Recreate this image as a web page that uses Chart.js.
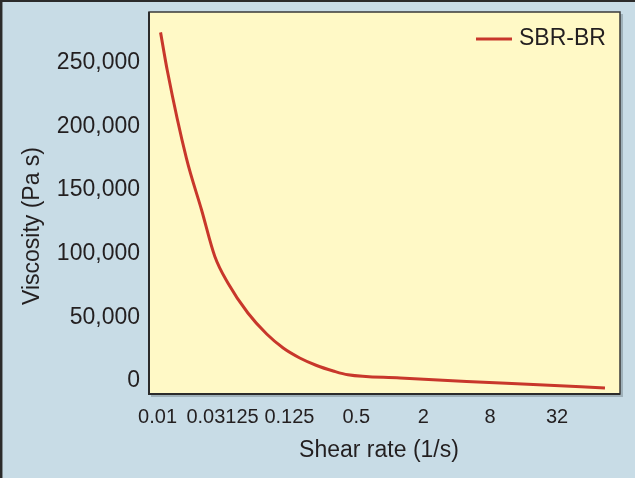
<!DOCTYPE html>
<html lang="en">
<head>
<meta charset="UTF-8">
<title>SBR-BR viscosity</title>
<script src="https://cdn.jsdelivr.net/npm/chart.js@4.4.1/dist/chart.umd.min.js"></script>
<style>
    body { margin: 0; background: #c8dce6; }
    canvas { display: block; }
</style>
</head>
<body>
<canvas id="my-chart" width="635" height="478"></canvas>
<script>

    // values
    const seriesName = 'SBR-BR';
    const xTitle = 'Shear rate (1/s)';
    const yTitle = 'Viscosity (Pa s)';
    const shearRate = [0.01, 0.0115, 0.0171, 0.0234, 0.0308, 0.0405, 0.0611, 0.0902, 0.127, 0.179, 0.254, 0.358, 0.486, 1.43, 5.68, 22.6, 100];
    const viscosity = [284000, 254000, 185000, 144500, 108000, 87000, 63600, 47100, 36100, 28300, 22400, 18100, 15100, 12600, 9800, 7400, 4700];
    const xTicks = [0.01, 0.03125, 0.125, 0.5, 2, 8, 32];
    const yMin = 0, yMax = 300000, yStep = 50000;

    const fontFamily = "'Liberation Sans', Arial, sans-serif";
    const textColor = '#231f20';
    const lineColor = '#c8372b';

    Chart.defaults.font.family = fontFamily;
    Chart.defaults.color = textColor;

    const framePlugin = {
        id: 'frame',
        beforeDraw(chart) {
            const {ctx, chartArea: a, width, height} = chart;
            ctx.save();
            ctx.fillStyle = '#c8dce6';
            ctx.fillRect(0, 0, width, height);
            ctx.strokeStyle = '#2b2b2b';
            ctx.lineWidth = 2.5;
            ctx.beginPath();
            ctx.moveTo(1.2, height);
            ctx.lineTo(1.2, 0.8);
            ctx.lineTo(width, 0.8);
            ctx.stroke();
            // plot box with a small shadow
            ctx.fillStyle = '#9fb1ba';
            ctx.fillRect(a.left + 2, a.top + 2, a.width + 1, a.height + 1);
            ctx.fillStyle = '#fff9c6';
            ctx.fillRect(a.left, a.top, a.width, a.height);
            ctx.strokeStyle = '#3a3a3a';
            ctx.lineWidth = 1.5;
            ctx.strokeRect(a.left, a.top, a.width, a.height);
            ctx.strokeStyle = '#2b2b2b';
            ctx.lineWidth = 2;
            ctx.beginPath();
            ctx.moveTo(a.left, a.top);
            ctx.lineTo(a.left, a.bottom);
            ctx.lineTo(a.right, a.bottom);
            ctx.stroke();
            ctx.restore();
        }
    };

    // axis titles sit a bit off-centre in the original, so draw them here
    const titlesPlugin = {
        id: 'axisTitles',
        afterDraw(chart) {
            const {ctx, chartArea: a} = chart;
            ctx.save();
            ctx.fillStyle = textColor;
            ctx.font = '23px ' + fontFamily;
            ctx.textAlign = 'center';
            ctx.textBaseline = 'middle';
            ctx.fillText(xTitle, a.left + 230, a.bottom + 57);
            ctx.translate(33, a.top + 214);
            ctx.rotate(-Math.PI / 2);
            ctx.fillText(yTitle, 0, 0);
            ctx.restore();
        }
    };

    const legendPlugin = {
        id: 'insideLegend',
        afterDraw(chart) {
            const {ctx, chartArea: a} = chart;
            const ds = chart.data.datasets[0];
            const y = a.top + 27;
            ctx.save();
            ctx.strokeStyle = ds.borderColor;
            ctx.lineWidth = ds.borderWidth;
            ctx.beginPath();
            ctx.moveTo(a.right - 144, y);
            ctx.lineTo(a.right - 108, y);
            ctx.stroke();
            ctx.fillStyle = textColor;
            ctx.font = '23px ' + fontFamily;
            ctx.textAlign = 'left';
            ctx.textBaseline = 'middle';
            ctx.fillText(ds.label, a.right - 101, y);
            ctx.restore();
        }
    };

    const ctx = document.getElementById('my-chart');

    const data = {
        datasets: [{
            label: seriesName,
            data: shearRate.map((x, i) => ({x: x, y: viscosity[i]})),
            borderColor: lineColor,
            borderWidth: 3,
            pointRadius: 0,
            fill: false,
            cubicInterpolationMode: 'monotone'
        }]
    };

    const config = {
        type: 'line',
        data: data,
        options: {
            responsive: false,
            animation: false,
            layout: {padding: {left: 0, top: 12, right: 15, bottom: 0}},
            plugins: {
                legend: {display: false},
                tooltip: {enabled: false}
            },
            scales: {
                x: {
                    type: 'logarithmic',
                    min: 0.00787,
                    max: 136.5,
                    grid: {display: false, drawTicks: false},
                    border: {display: false},
                    afterBuildTicks: (scale) => {
                        scale.ticks = xTicks.map(v => ({value: v}));
                    },
                    afterFit: (scale) => {
                        scale.height = 84;
                        scale.paddingLeft = 0;
                        scale.paddingRight = 0;
                    },
                    ticks: {
                        autoSkip: false,
                        maxRotation: 0,
                        minRotation: 0,
                        labelOffset: 7,
                        padding: 11,
                        font: {size: 20},
                        callback: (value) => value === 0.01 ? '0.01\u2003' : String(value)
                    }
                },
                y: {
                    min: yMin,
                    max: yMax,
                    grid: {display: false, drawTicks: false},
                    border: {display: false},
                    afterFit: (scale) => {
                        scale.width = 149;
                        scale.paddingTop = 0;
                        scale.paddingBottom = 0;
                    },
                    ticks: {
                        stepSize: yStep,
                        labelOffset: -13,
                        padding: 9,
                        font: {size: 23},
                        callback: (value) => value === yMax ? '' : value.toLocaleString('en-US')
                    }
                }
            }
        },
        plugins: [framePlugin, titlesPlugin, legendPlugin]
    };

    const chart = new Chart(ctx, config);

</script>
</body>
</html>
